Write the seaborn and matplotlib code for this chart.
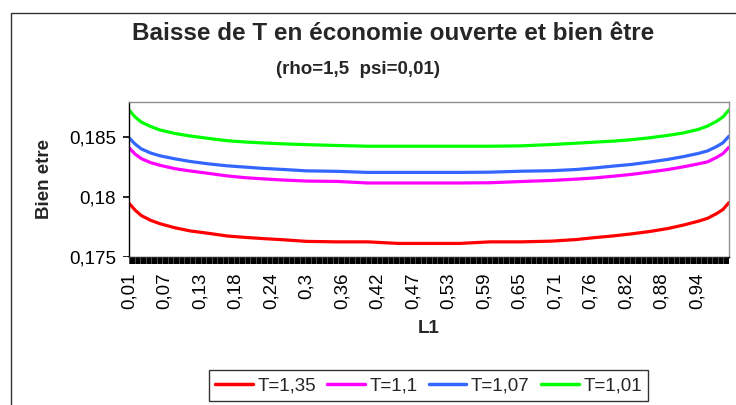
import numpy as np
import pandas as pd
import matplotlib
matplotlib.use("Agg")
import matplotlib.pyplot as plt
from matplotlib.patches import Rectangle
import seaborn as sns

# L1 grid (share of the population) and welfare for each value of T
L1 = [0.01, 0.02, 0.03, 0.045, 0.06, 0.085, 0.11, 0.14, 0.17, 0.20, 0.23, 0.26,
      0.30, 0.35, 0.40, 0.45, 0.50, 0.55, 0.60, 0.65, 0.70, 0.74, 0.77, 0.80,
      0.83, 0.86, 0.89, 0.915, 0.94, 0.955, 0.97, 0.98, 0.99]

bien_etre_T135 = [0.17948, 0.17890, 0.17845, 0.17806, 0.17778, 0.17743, 0.17717,
                  0.17697, 0.17675, 0.17663, 0.17653, 0.17644, 0.17630, 0.17626,
                  0.17626, 0.17613, 0.17613, 0.17613, 0.17626, 0.17626, 0.17632,
                  0.17645, 0.17661, 0.17675, 0.17692, 0.17712, 0.17737, 0.17765,
                  0.17798, 0.17822, 0.17862, 0.17895, 0.17953]

bien_etre_T110 = [0.18409, 0.18356, 0.18319, 0.18286, 0.18264, 0.18235, 0.18216,
                  0.18196, 0.18175, 0.18160, 0.18150, 0.18141, 0.18132, 0.18129,
                  0.18116, 0.18116, 0.18116, 0.18116, 0.18118, 0.18128, 0.18137,
                  0.18148, 0.18158, 0.18172, 0.18187, 0.18207, 0.18228, 0.18250,
                  0.18275, 0.18292, 0.18330, 0.18360, 0.18414]

bien_etre_T107 = [0.18492, 0.18440, 0.18400, 0.18366, 0.18343, 0.18317, 0.18295,
                  0.18275, 0.18259, 0.18248, 0.18237, 0.18229, 0.18217, 0.18213,
                  0.18204, 0.18204, 0.18204, 0.18204, 0.18206, 0.18214, 0.18218,
                  0.18228, 0.18241, 0.18256, 0.18270, 0.18290, 0.18312, 0.18335,
                  0.18362, 0.18383, 0.18420, 0.18450, 0.18506]

bien_etre_T101 = [0.18724, 0.18665, 0.18623, 0.18587, 0.18558, 0.18528, 0.18507,
                  0.18487, 0.18468, 0.18457, 0.18449, 0.18442, 0.18435, 0.18428,
                  0.18422, 0.18422, 0.18422, 0.18422, 0.18422, 0.18425, 0.18436,
                  0.18447, 0.18456, 0.18464, 0.18476, 0.18492, 0.18512, 0.18532,
                  0.18562, 0.18590, 0.18630, 0.18665, 0.18724]

series_names = ["T=1,35", "T=1,1", "T=1,07", "T=1,01"]
series_colors = ["#FF0000", "#FF00FF", "#3366FF", "#00FF00"]

x_tick_labels = ["0,01", "0,07", "0,13", "0,18", "0,24", "0,3", "0,36", "0,42",
                 "0,47", "0,53", "0,59", "0,65", "0,71", "0,76", "0,82", "0,88",
                 "0,94"]
y_ticks = [0.175, 0.18, 0.185]
y_tick_labels = ["0,175", "0,18", "0,185"]

df = pd.concat(
    [pd.DataFrame({"L1": L1, "Bien etre": vals, "T": name})
     for name, vals in zip(series_names,
                           [bien_etre_T135, bien_etre_T110,
                            bien_etre_T107, bien_etre_T101])],
    ignore_index=True)

sns.set_style("white")
plt.rcParams["font.family"] = ["Liberation Sans", "DejaVu Sans"]

W, H = 736, 405
fig = plt.figure(figsize=(W / 100, H / 100), dpi=100)
fig.patch.set_facecolor("white")

# outer chart frame
fig.patches.append(Rectangle((10.5 / W, -0.5), 2.0, 0.5 + 1 - 13 / H,
                             transform=fig.transFigure, fill=False,
                             edgecolor="#333333", linewidth=1.0))

X0, X1, Y_TOP, Y_BOT = 129, 729, 102, 257
ax = fig.add_axes([X0 / W, 1 - Y_BOT / H, (X1 - X0) / W, (Y_BOT - Y_TOP) / H])
sns.lineplot(data=df, x="L1", y="Bien etre", hue="T",
             hue_order=series_names, palette=series_colors,
             linewidth=2.3, ax=ax, legend=False, sort=True)

ax.set_xlim(0.01, 0.99)
ax.set_ylim(0.175, 0.1879)

ax.set_yticks(y_ticks)
ax.set_yticklabels(y_tick_labels, fontsize=13.5, color="black")
x_major = [0.01 + 0.058 * i for i in range(len(x_tick_labels))]
ax.set_xticks(x_major)
ax.set_xticklabels(x_tick_labels, rotation=90, fontsize=13.5, color="black")
ax.tick_params(axis="y", length=0, pad=9.3)
ax.tick_params(axis="x", length=0, pad=11.3)

for side in ("left", "bottom"):
    ax.spines[side].set_color("black")
    ax.spines[side].set_linewidth(1.0)
for side in ("top", "right"):
    ax.spines[side].set_color("#909090")
    ax.spines[side].set_linewidth(1.0)

# dense comb of category tick marks under the horizontal axis
comb = fig.add_axes([X0 / W, 1 - (Y_BOT + 7) / H, (X1 - X0) / W, 7 / H])
comb.set_facecolor("#4a4a4a")
comb.set_xlim(0.01 - 0.001, 0.99 + 0.001)
comb.set_ylim(0, 1)
comb.vlines(np.arange(0.01, 0.99 + 1e-9, 0.002), 0, 1,
            colors="black", linewidth=0.7)
comb.set_xticks([])
comb.set_yticks([])
for s in comb.spines.values():
    s.set_visible(False)

# outward tick marks on the value axis
yt = fig.add_axes([(X0 - 6) / W, 1 - Y_BOT / H, 6 / W, (Y_BOT - Y_TOP) / H])
yt.patch.set_alpha(0)
yt.set_xlim(0, 1)
yt.set_ylim(0.175, 0.1879)
yt.hlines(y_ticks, 0, 1, colors="black", linewidth=1.2)
yt.set_xticks([])
yt.set_yticks([])
for s in yt.spines.values():
    s.set_visible(False)

ax.set_ylabel("Bien etre", fontsize=13.5, fontweight="bold")
ax.yaxis.set_label_coords((53 - X0) / 600, 0.5)
ax.set_xlabel("L1", fontsize=13.5, fontweight="bold")
ax.xaxis.set_label_coords(0.5, (Y_BOT - 320) / 155)

fig.text(393 / W, 1 - 33 / H, "Baisse de T en économie ouverte et bien être",
         ha="center", va="center", fontsize=17.5, fontweight="bold")
fig.text(358 / W, 1 - 69 / H, "(rho=1,5  psi=0,01)",
         ha="center", va="center", fontsize=13.5, fontweight="bold")

handles = [plt.Line2D([], [], color=c, linewidth=2.5) for c in series_colors]
leg = fig.legend(handles, series_names, loc="center",
                 bbox_to_anchor=(428.5 / W, 1 - 385.5 / H), ncol=4,
                 fontsize=13.5, frameon=True, fancybox=False, shadow=False,
                 handlelength=2.0, handletextpad=0.25, columnspacing=0.6,
                 borderpad=0.35, borderaxespad=0.0)
leg.get_frame().set_edgecolor("black")
leg.get_frame().set_linewidth(1.0)

fig.savefig("out.png", dpi=100, facecolor="white")
